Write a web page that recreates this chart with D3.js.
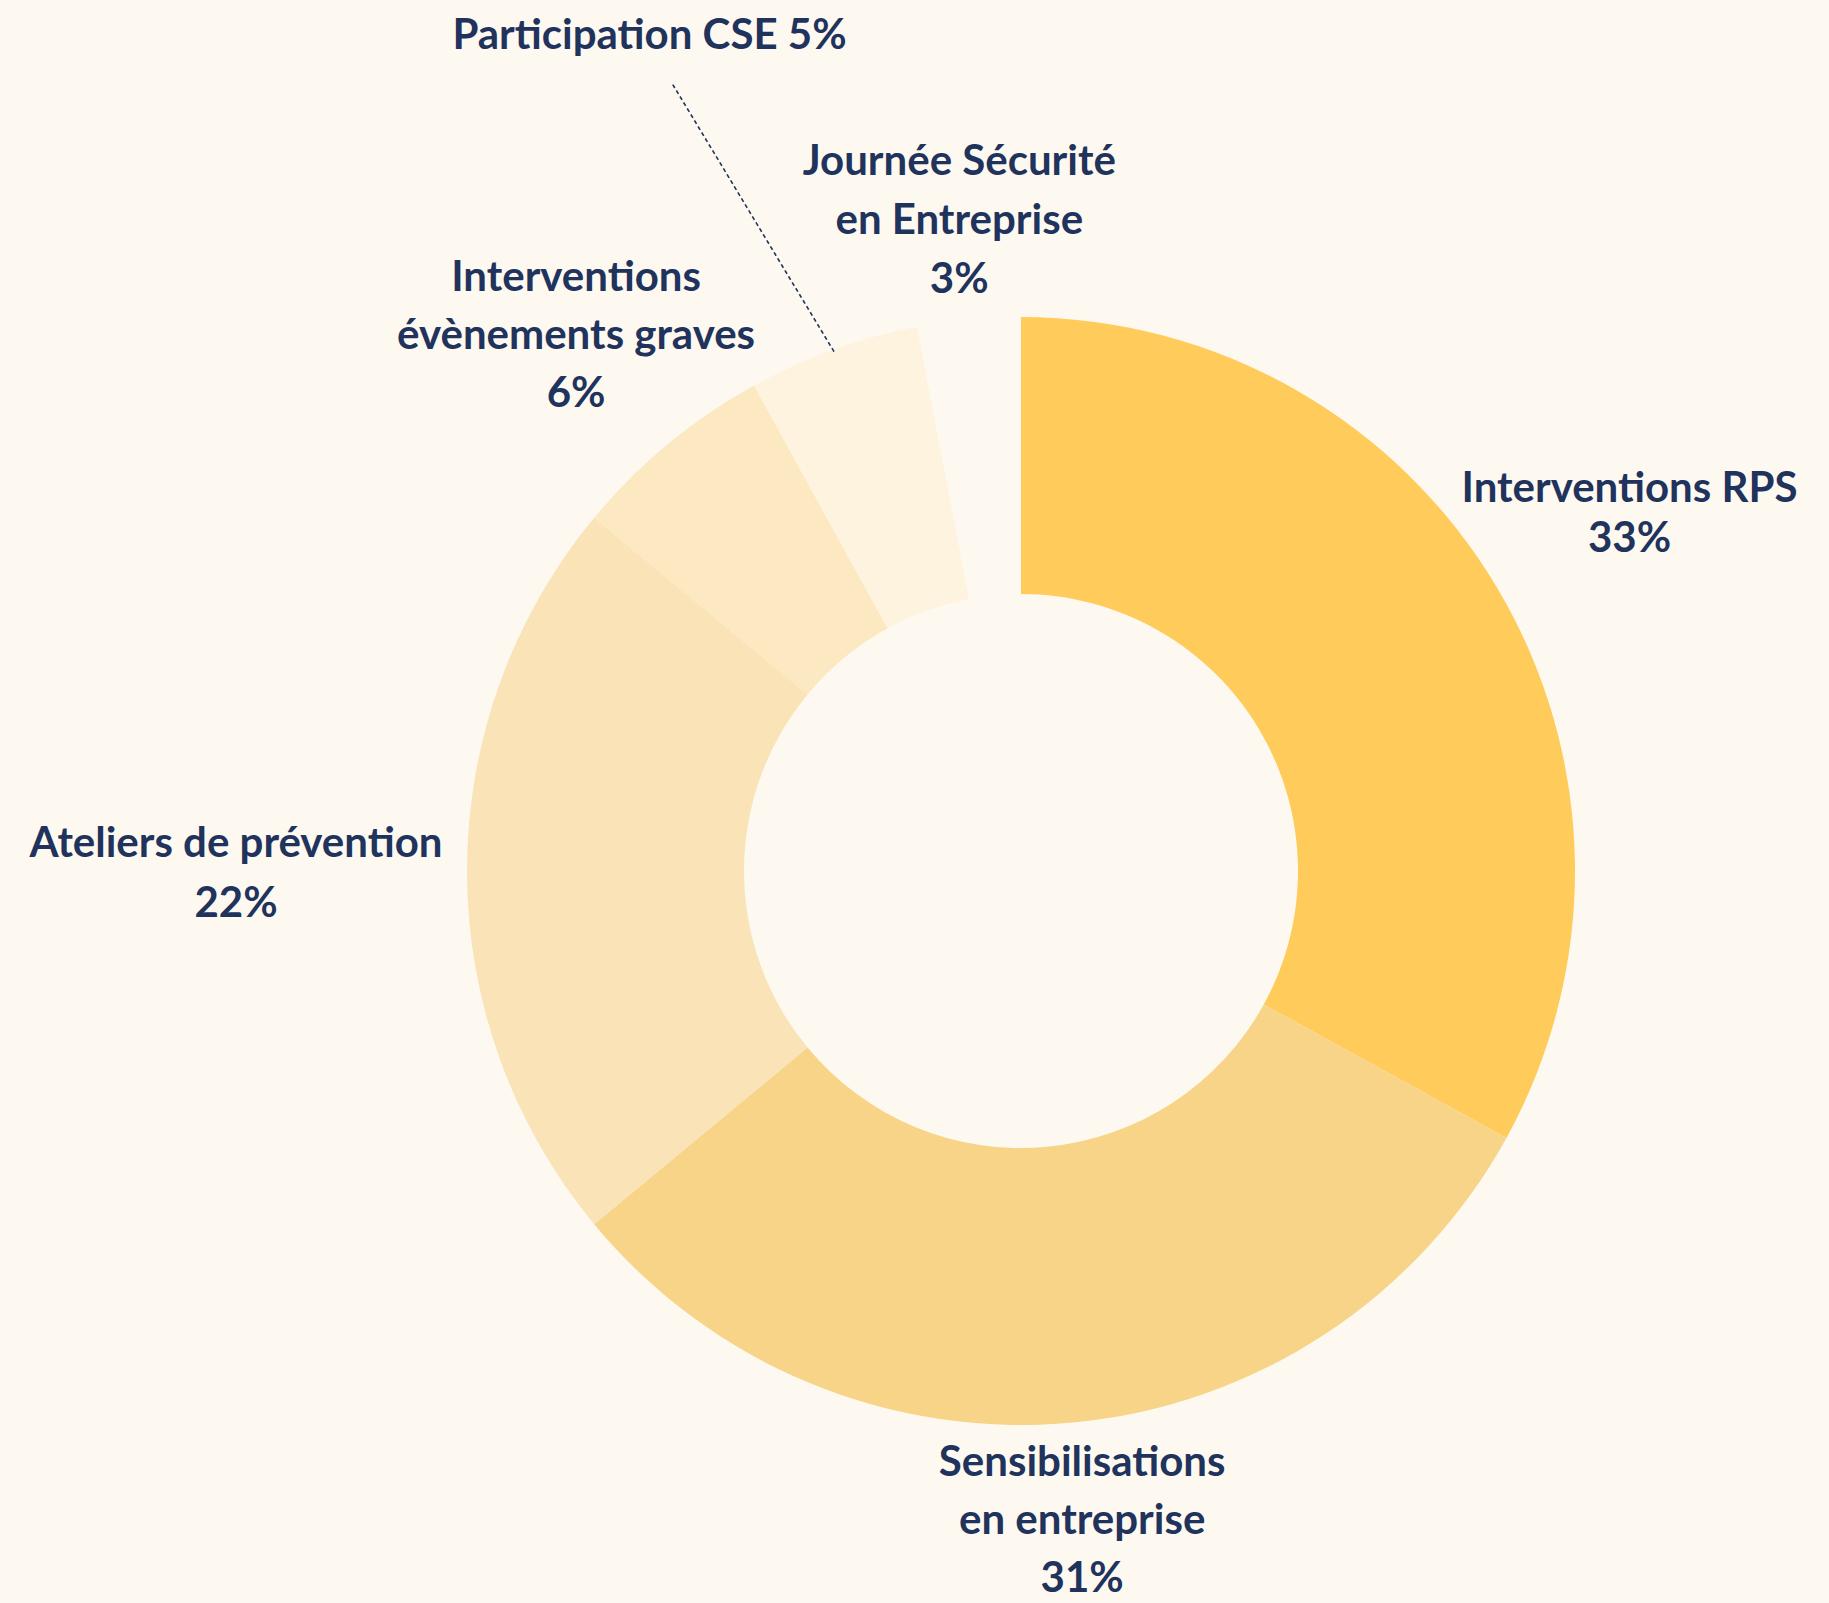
<!DOCTYPE html>
<html>
<head>
<meta charset="utf-8">
<script src="https://cdn.jsdelivr.net/npm/d3@7"></script>
<style>
  html, body { margin: 0; padding: 0; background: #FDF9F0; }
  svg { display: block; }
</style>
</head>
<body>
<div id="chart"></div>
<script>
// data
const categories = ['Interventions RPS', 'Sensibilisations en entreprise', 'Ateliers de prévention',
  'Interventions évènements graves', 'Participation CSE', 'Journée Sécurité en Entreprise'];
const values = [33, 31, 22, 6, 5, 3];
const labelLines = [
  ['Interventions RPS'],
  ['Sensibilisations', 'en entreprise'],
  ['Ateliers de prévention'],
  ['Interventions', 'évènements graves'],
  ['Participation CSE'],
  ['Journée Sécurité', 'en Entreprise']
];
const colors = ['#FFCB5B', '#F7D488', '#F9E3B7', '#FCE8C1', '#FEF3DE', '#FDF9F0'];

// layout tweaks for the labels (distance from centre, line spacing)
const labelDist = [707, 650, 785, 698, 917, 656];
const lineHeight = [50, 58, 60, 58, 0, 59];
const inlineValue = [false, false, false, false, true, false];
const angleShift = [0, 0, 0, 0, -4.1, 0];

const width = 1829;
const height = 1603;
const cx = 1021, cy = 871;
const outerR = 554, innerR = 277;
const textColor = '#1F335D';

const data = categories.map((c, i) => ({ label: c, value: values[i], i }));

const svg = d3.select('#chart')
  .append('svg')
  .attr('width', width)
  .attr('height', height);

svg.append('rect')
  .attr('width', width)
  .attr('height', height)
  .attr('fill', '#FDF9F0');

const g = svg.append('g')
  .attr('transform', `translate(${cx}, ${cy})`);

const pie = d3.pie()
  .sort(null)
  .value(d => d.value);

const pieData = pie(data);

const arc = d3.arc()
  .innerRadius(innerR)
  .outerRadius(outerR);

g.selectAll('path.slice')
  .data(pieData)
  .join('path')
  .attr('class', 'slice')
  .attr('d', arc)
  .attr('fill', d => colors[d.data.i]);

// polar helper, angle measured clockwise from 12 o'clock
const polar = (a, r) => [Math.sin(a) * r, -Math.cos(a) * r];

// leader line for the small slice whose label sits far away
pieData.forEach(d => {
  const i = d.data.i;
  if (!inlineValue[i]) return;
  const mid = (d.startAngle + d.endAngle) / 2;
  const la = mid + angleShift[i] * Math.PI / 180;
  const p0 = polar(mid, outerR - 2);
  const p1 = polar(la, labelDist[i] - 55);
  g.append('line')
    .attr('x1', p0[0]).attr('y1', p0[1])
    .attr('x2', p1[0]).attr('y2', p1[1])
    .attr('stroke', textColor)
    .attr('stroke-width', 1.6)
    .attr('stroke-dasharray', '4,3');
});

// labels
const labels = g.selectAll('g.label')
  .data(pieData)
  .join('g')
  .attr('class', 'label')
  .attr('transform', d => {
    const i = d.data.i;
    const mid = (d.startAngle + d.endAngle) / 2 + angleShift[i] * Math.PI / 180;
    const p = polar(mid, labelDist[i]);
    return `translate(${p[0]}, ${p[1]})`;
  });

labels.each(function(d) {
  const i = d.data.i;
  const lines = inlineValue[i]
    ? [labelLines[i][0] + ' ' + d.data.value + '%']
    : labelLines[i].concat([d.data.value + '%']);
  const n = lines.length;
  const t = d3.select(this).append('text')
    .attr('text-anchor', 'middle')
    .style('font-family', 'Lato, "Noto Sans", sans-serif')
    .style('font-weight', 700)
    .style('font-size', '42px')
    .attr('fill', textColor);
  lines.forEach((s, k) => {
    t.append('tspan')
      .attr('x', 0)
      .attr('y', 16 + (k - (n - 1) / 2) * lineHeight[i])
      .text(s);
  });
});
</script>
</body>
</html>
